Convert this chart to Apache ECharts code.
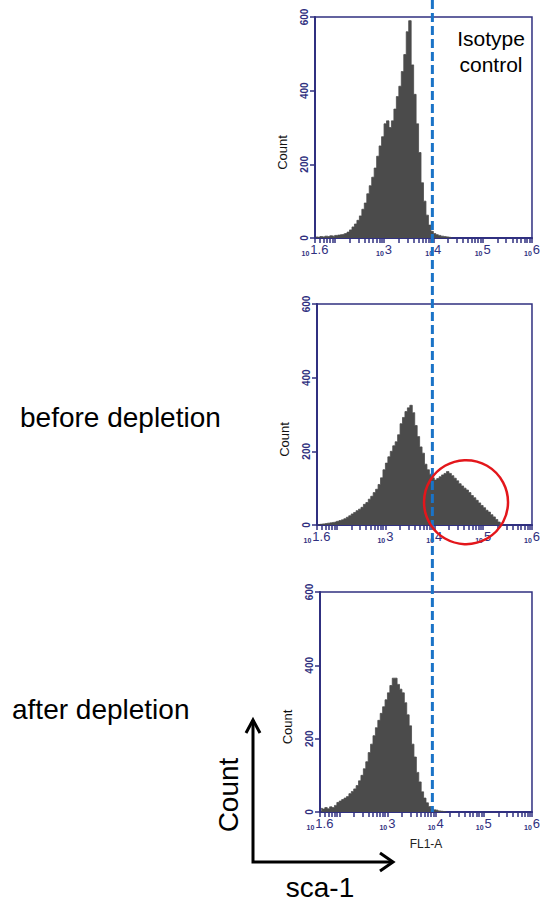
<!DOCTYPE html>
<html>
<head>
<meta charset="utf-8">
<style>
  html, body { margin: 0; padding: 0; background: #fff; }
  #chart { width: 543px; height: 902px; }
</style>
<script src="https://cdn.jsdelivr.net/npm/echarts@6/dist/echarts.min.js"></script>
</head>
<body>
<div id="chart"></div>
<script>
// histogram bins: log10(FL1-A), 0.05 decade wide, starting at 10^1.6
var BIN_START = 1.6;
var BIN_WIDTH = 0.05;

// counts per bin
var isotypeCounts = [3, 2, 4, 3, 5, 4, 6, 5, 7, 8,
  9, 10, 12, 16, 22, 30, 38, 48, 60, 78,
  95, 120, 142, 165, 190, 222, 250, 275, 310, 318,
  300, 318, 350, 384, 412, 452, 498, 560, 590, 470,
  390, 310, 232, 150, 100, 62, 35, 18, 12, 9,
  7, 5, 4, 3, 2, 0];
var beforeCounts = [1, 2, 3, 4, 5, 6, 7, 8, 10, 12,
  14, 17, 21, 25, 30, 34, 39, 43, 48, 56,
  61, 70, 78, 88, 97, 110, 128, 150, 168, 185,
  200, 215, 226, 245, 275, 292, 308, 318, 325, 305,
  270, 240, 212, 195, 165, 150, 138, 128, 122, 126,
  131, 136, 140, 145, 140, 134, 127, 120, 112, 106,
  100, 95, 88, 80, 74, 67, 60, 53, 47, 40,
  35, 28, 22, 15, 8, 3, 0];
var afterCounts = [10, 8, 12, 9, 14, 12, 18, 26, 30, 34,
  38, 42, 50, 56, 63, 72, 85, 100, 118, 137,
  162, 185, 208, 230, 250, 269, 287, 306, 325, 345,
  365, 365, 348, 335, 325, 298, 265, 235, 185, 150,
  108, 82, 55, 38, 25, 15, 9, 6, 5, 3,
  2, 1, 0];

var xLabelValues = [1.6, 3, 4, 5, 6];
var yMax = 600;
var yStep = 200;
var gateAt = 3.98;          // dashed gate, log10 units
var circleAt = [4.65, 62];  // red circle centre in the middle panel

var navy = '#303080';
var ink = '#4b4b4b';
var font = '"Liberation Sans", Arial, sans-serif';

// log minor tick positions
var tickValues = [];
for (var n = 1; n <= 6; n++) {
  for (var k = 1; k <= 9; k++) {
    var t = Math.log10(k * Math.pow(10, n));
    if (t >= 1.6 - 1e-9 && t <= 6 + 1e-9) tickValues.push(t);
  }
}

function toPairs(counts) {
  return counts.map(function(c, i) { return [BIN_START + BIN_WIDTH * (i + 0.5), c]; });
}

var grids = [
  { left: 315, top: 17, width: 223, height: 221 },
  { left: 317, top: 304, width: 221, height: 221 },
  { left: 320, top: 592, width: 219, height: 220 }
];

function makeX(i) {
  return {
    type: 'value', gridIndex: i, min: 1.6, max: 6,
    name: i === 2 ? 'FL1-A' : '',
    nameLocation: 'middle', nameGap: 26,
    nameTextStyle: { fontFamily: font, fontSize: 12, color: '#222' },
    axisLine: { lineStyle: { color: navy, width: 2 } },
    axisTick: { show: true, customValues: tickValues, length: 5, lineStyle: { color: navy, width: 1.5 } },
    axisLabel: {
      customValues: xLabelValues, margin: 5,
      formatter: function(v) {
        var e = Math.abs(v - 1.6) < 1e-6 ? '1.6' : String(Math.round(v));
        return '{s|10}{e|' + e + '}';
      },
      rich: {
        s: { fontFamily: font, fontSize: 7, fontWeight: 'bold', color: navy, lineHeight: 8, padding: [8, 1, 0, 0], verticalAlign: 'bottom' },
        e: { fontFamily: font, fontSize: 13, color: navy, lineHeight: 14, verticalAlign: 'top' }
      }
    },
    splitLine: { show: false }
  };
}

function makeY(i) {
  return {
    type: 'value', gridIndex: i, min: 0, max: yMax, interval: yStep,
    name: 'Count', nameLocation: 'middle', nameRotate: 90, nameGap: 26,
    nameTextStyle: { fontFamily: font, fontSize: 13, color: '#111', padding: [0, 50, 0, 0] },
    axisLine: { show: true, lineStyle: { color: navy, width: 2 } },
    axisTick: { show: true, length: 5, lineStyle: { color: navy, width: 1.5 } },
    axisLabel: { rotate: 90, fontFamily: font, fontSize: 10, fontWeight: 'bold', color: navy, margin: 6 },
    splitLine: { show: false }
  };
}

function makeSeries(i, counts) {
  return {
    type: 'line', xAxisIndex: i, yAxisIndex: i,
    step: 'middle', showSymbol: false, symbol: 'none', silent: true,
    lineStyle: { color: ink, width: 0.8 },
    areaStyle: { color: ink, opacity: 1 },
    data: toPairs(counts)
  };
}

var chart = echarts.init(document.getElementById('chart'), null, { renderer: 'svg' });
chart.setOption({
  animation: false,
  backgroundColor: '#fff',
  grid: grids.map(function(g) {
    return { left: g.left, top: g.top, width: g.width, height: g.height, show: true, borderColor: navy, borderWidth: 1.5 };
  }),
  xAxis: [makeX(0), makeX(1), makeX(2)],
  yAxis: [makeY(0), makeY(1), makeY(2)],
  series: [makeSeries(0, isotypeCounts), makeSeries(1, beforeCounts), makeSeries(2, afterCounts)]
});

var gateTop = chart.convertToPixel({ xAxisIndex: 0, yAxisIndex: 0 }, [gateAt, yMax]);
var gateBottom = chart.convertToPixel({ xAxisIndex: 2, yAxisIndex: 2 }, [gateAt, 0]);
var ring = chart.convertToPixel({ xAxisIndex: 1, yAxisIndex: 1 }, circleAt);

chart.setOption({
  graphic: [
    { type: 'line', z: 50, shape: { x1: gateTop[0], y1: 0, x2: gateTop[0], y2: gateBottom[1] },
      style: { stroke: '#1a73c7', lineWidth: 3, lineDash: [9, 4] } },
    { type: 'circle', z: 51, shape: { cx: ring[0], cy: ring[1], r: 42 },
      style: { fill: 'none', stroke: '#e3161b', lineWidth: 2.5 } },
    { type: 'text', z: 52, x: 491, y: 25,
      style: { text: 'Isotype\ncontrol', font: '21px ' + font, fill: '#000', align: 'center', verticalAlign: 'top', lineHeight: 26 } },
    { type: 'text', x: 20, y: 417,
      style: { text: 'before depletion', font: '28px ' + font, fill: '#000', align: 'left', verticalAlign: 'middle' } },
    { type: 'text', x: 12, y: 709,
      style: { text: 'after depletion', font: '28px ' + font, fill: '#000', align: 'left', verticalAlign: 'middle' } },
    { type: 'text', x: 228, y: 795, rotation: Math.PI / 2,
      style: { text: 'Count', font: '28px ' + font, fill: '#000', align: 'center', verticalAlign: 'middle' } },
    { type: 'text', x: 320, y: 887,
      style: { text: 'sca-1', font: '28px ' + font, fill: '#000', align: 'center', verticalAlign: 'middle' } },
    { type: 'polyline', shape: { points: [[253, 720], [253, 862], [393, 862]] },
      style: { stroke: '#000', lineWidth: 3, fill: 'none' } },
    { type: 'polyline', shape: { points: [[246, 733], [253, 720], [260, 733]] },
      style: { stroke: '#000', lineWidth: 3, fill: 'none' } },
    { type: 'polyline', shape: { points: [[380, 853], [393, 862], [380, 871]] },
      style: { stroke: '#000', lineWidth: 3, fill: 'none' } }
  ]
});
window.addEventListener('resize', function() { chart.resize(); });
</script>
</body>
</html>
